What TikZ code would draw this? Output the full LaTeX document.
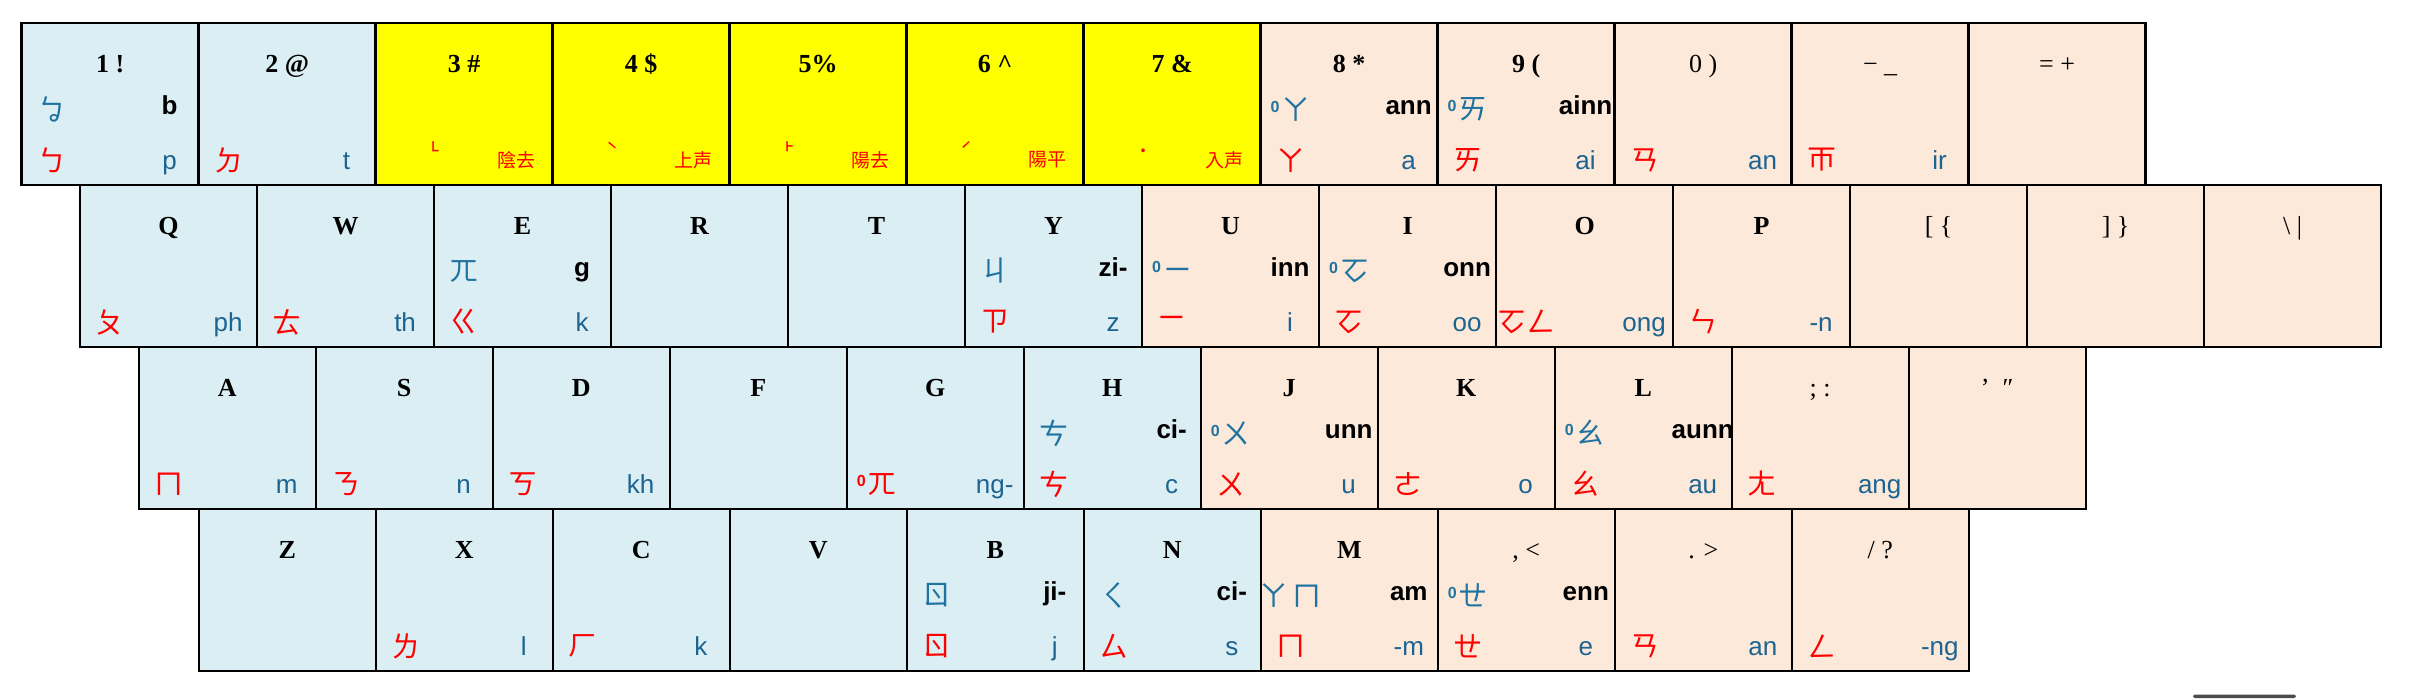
\documentclass[tikz,border=0pt]{standalone}
\usepackage{fontspec}
\usepackage{graphicx}
\setmainfont{Liberation Serif}
\setsansfont{Liberation Sans}
\newfontfamily\zyfont{Noto Sans CJK TC}
\newfontfamily\tonefont{Noto Sans CJK TC}
\definecolor{kblue}{RGB}{218,238,243}
\definecolor{kpeach}{RGB}{253,233,217}
\definecolor{kyellow}{RGB}{255,255,0}
\definecolor{zblue}{RGB}{31,115,160}
\definecolor{lblue}{RGB}{28,100,145}
\definecolor{zred}{RGB}{255,0,0}
\tikzset{
  keybox/.style={draw=black, line width=1.2pt, rectangle, anchor=north west,
    minimum width=88.5pt, minimum height=81pt, inner sep=0pt, outer sep=0pt},
  toplab/.style={anchor=base, inner sep=0pt, font=\fontsize{13}{13}\selectfont\rmfamily},
  zyblue/.style={anchor=center, inner sep=0pt, text=zblue, font=\fontsize{14.5}{14.5}\selectfont\zyfont},
  zyred/.style={anchor=center, inner sep=0pt, text=zred, font=\fontsize{14.5}{14.5}\selectfont\zyfont},
  latbold/.style={anchor=base, inner sep=0pt, text=black, font=\fontsize{13}{13}\selectfont\sffamily\bfseries},
  latblue/.style={anchor=base, inner sep=0pt, text=lblue, font=\fontsize{13}{13}\selectfont\sffamily},
  tonestyle/.style={anchor=base, inner sep=0pt, text=zred, font=\fontsize{10}{10}\selectfont\tonefont},
  tonename/.style={anchor=center, inner sep=0pt, text=zred, font=\fontsize{9.5}{10}\selectfont\zyfont},
}
\newcommand\keycap[5]{\node[keybox,fill=#4] (#1) at (#2,#3) {};
  \node[toplab] (#1-t) at ([shift={(88.5,49)}]#1.north west) {#5};}
\newcommand\midl[2]{\node[zyblue] (#1-ml) at ([shift={(30,86)}]#1.north west) {#2};}
\newcommand\midr[2]{\node[latbold] (#1-mr) at ([shift={(148,91)}]#1.north west) {#2};}
\newcommand\botl[2]{\node[zyred] (#1-bl) at ([shift={(30,137)}]#1.north west) {#2};}
\newcommand\botr[2]{\node[latblue] (#1-br) at ([shift={(148,146)}]#1.north west) {#2};}
\newcommand\tmark[2]{\node[tonestyle] (#1-tm) at ([shift={(60,135)}]#1.north west) {#2};}
\newcommand\tname[2]{\node[tonename] (#1-tn) at ([shift={(141,137)}]#1.north west) {#2};}
\newcommand\nas{{\fontsize{8}{8}\selectfont\sffamily\bfseries\raisebox{0.5em}{0}}\hspace{1pt}}
\begin{document}
\begin{tikzpicture}[x=0.5pt,y=-0.5pt]
\useasboundingbox (0,0) rectangle (2416,698);
% ---------- row 1 ----------
\keycap{k1}{21.6}{23}{kblue}{\textbf{1 !}}
\midl{k1}{ㆠ}\midr{k1}{b}\botl{k1}{ㄅ}\botr{k1}{p}
\keycap{k2}{198.6}{23}{kblue}{\textbf{2 @}}
\botl{k2}{ㄉ}\botr{k2}{t}
\keycap{k3}{375.6}{23}{kyellow}{\textbf{3 \#}}
\tmark{k3}{˪}\tname{k3}{陰去}
\keycap{k4}{552.6}{23}{kyellow}{\textbf{4 \$}}
\tmark{k4}{ˋ}\tname{k4}{上声}
\keycap{k5}{729.6}{23}{kyellow}{\textbf{5\%}}
\tmark{k5}{˫}\tname{k5}{陽去}
\keycap{k6}{906.6}{23}{kyellow}{\textbf{6 \^{}}}
\tmark{k6}{ˊ}\tname{k6}{陽平}
\keycap{k7}{1083.6}{23}{kyellow}{\textbf{7 \&}}
\tmark{k7}{˙}\tname{k7}{入声}
\keycap{k8}{1260.6}{23}{kpeach}{\textbf{8 *}}
\midl{k8}{\nas ㄚ}\midr{k8}{ann}\botl{k8}{ㄚ}\botr{k8}{a}
\keycap{k9}{1437.6}{23}{kpeach}{\textbf{9 (}}
\midl{k9}{\nas ㄞ}\midr{k9}{ainn}\botl{k9}{ㄞ}\botr{k9}{ai}
\keycap{k0}{1614.6}{23}{kpeach}{0 )}
\botl{k0}{ㄢ}\botr{k0}{an}
\keycap{kminus}{1791.6}{23}{kpeach}{−\ \_}
\botl{kminus}{ㄭ}\botr{kminus}{ir}
\keycap{kequal}{1968.6}{23}{kpeach}{= +}
% ---------- row 2 ----------
\keycap{kq}{80.1}{185}{kblue}{\textbf{Q}}
\botl{kq}{ㄆ}\botr{kq}{ph}
\keycap{kw}{257.1}{185}{kblue}{\textbf{W}}
\botl{kw}{ㄊ}\botr{kw}{th}
\keycap{ke}{434.1}{185}{kblue}{\textbf{E}}
\midl{ke}{ㄫ}\midr{ke}{g}\botl{ke}{ㄍ}\botr{ke}{k}
\keycap{kr}{611.1}{185}{kblue}{\textbf{R}}
\keycap{kt}{788.1}{185}{kblue}{\textbf{T}}
\keycap{ky}{965.1}{185}{kblue}{\textbf{Y}}
\midl{ky}{ㄐ}\midr{ky}{zi-}\botl{ky}{ㄗ}\botr{ky}{z}
\keycap{ku}{1142.1}{185}{kpeach}{\textbf{U}}
\midl{ku}{\nas ㄧ}\midr{ku}{inn}\botl{ku}{ㄧ}\botr{ku}{i}
\keycap{ki}{1319.1}{185}{kpeach}{\textbf{I}}
\midl{ki}{\nas ㆦ}\midr{ki}{onn}\botl{ki}{ㆦ}\botr{ki}{oo}
\keycap{ko}{1496.1}{185}{kpeach}{\textbf{O}}
\botl{ko}{ㆦㄥ}\botr{ko}{ong}
\keycap{kp}{1673.1}{185}{kpeach}{\textbf{P}}
\botl{kp}{ㄣ}\botr{kp}{-n}
\keycap{klbr}{1850.1}{185}{kpeach}{[ \{}
\keycap{krbr}{2027.1}{185}{kpeach}{] \}}
\keycap{kbsl}{2204.1}{185}{kpeach}{\textbackslash\ |}
% ---------- row 3 ----------
\keycap{ka}{138.7}{347}{kblue}{\textbf{A}}
\botl{ka}{ㄇ}\botr{ka}{m}
\keycap{ks}{315.7}{347}{kblue}{\textbf{S}}
\botl{ks}{ㄋ}\botr{ks}{n}
\keycap{kd}{492.7}{347}{kblue}{\textbf{D}}
\botl{kd}{ㄎ}\botr{kd}{kh}
\keycap{kf}{669.7}{347}{kblue}{\textbf{F}}
\keycap{kg}{846.7}{347}{kblue}{\textbf{G}}
\botl{kg}{\nas ㄫ}\botr{kg}{ng-}
\keycap{kh}{1023.7}{347}{kblue}{\textbf{H}}
\midl{kh}{ㄘ}\midr{kh}{ci-}\botl{kh}{ㄘ}\botr{kh}{c}
\keycap{kj}{1200.7}{347}{kpeach}{\textbf{J}}
\midl{kj}{\nas ㄨ}\midr{kj}{unn}\botl{kj}{ㄨ}\botr{kj}{u}
\keycap{kk}{1377.7}{347}{kpeach}{\textbf{K}}
\botl{kk}{ㄜ}\botr{kk}{o}
\keycap{kl}{1554.7}{347}{kpeach}{\textbf{L}}
\midl{kl}{\nas ㄠ}\midr{kl}{aunn}\botl{kl}{ㄠ}\botr{kl}{au}
\keycap{ksemi}{1731.7}{347}{kpeach}{; :}
\botl{ksemi}{ㄤ}\botr{ksemi}{ang}
\keycap{kquote}{1908.7}{347}{kpeach}{’\ \ ″}
% ---------- row 4 ----------
\keycap{kz}{198.8}{509}{kblue}{\textbf{Z}}
\keycap{kx}{375.8}{509}{kblue}{\textbf{X}}
\botl{kx}{ㄌ}\botr{kx}{l}
\keycap{kc}{552.8}{509}{kblue}{\textbf{C}}
\botl{kc}{ㄏ}\botr{kc}{k}
\keycap{kv}{729.8}{509}{kblue}{\textbf{V}}
\keycap{kb}{906.8}{509}{kblue}{\textbf{B}}
\midl{kb}{ㄖ}\midr{kb}{ji-}\botl{kb}{ㄖ}\botr{kb}{j}
\keycap{kn}{1083.8}{509}{kblue}{\textbf{N}}
\midl{kn}{ㄑ}\midr{kn}{ci-}\botl{kn}{ㄙ}\botr{kn}{s}
\keycap{km}{1260.8}{509}{kpeach}{\textbf{M}}
\midl{km}{ㄚ\hspace{2pt}ㄇ}\midr{km}{am}\botl{km}{ㄇ}\botr{km}{-m}
\keycap{kcomma}{1437.8}{509}{kpeach}{, <}
\midl{kcomma}{\nas ㄝ}\midr{kcomma}{enn}\botl{kcomma}{ㄝ}\botr{kcomma}{e}
\keycap{kperiod}{1614.8}{509}{kpeach}{. >}
\botl{kperiod}{ㄢ}\botr{kperiod}{an}
\keycap{kslash}{1791.8}{509}{kpeach}{/ ?}
\botl{kslash}{ㄥ}\botr{kslash}{-ng}
% small bar at the bottom edge
\fill[black!70, rounded corners=0.8pt] (2193,694.5) rectangle (2296,698);
\end{tikzpicture}
\end{document}
